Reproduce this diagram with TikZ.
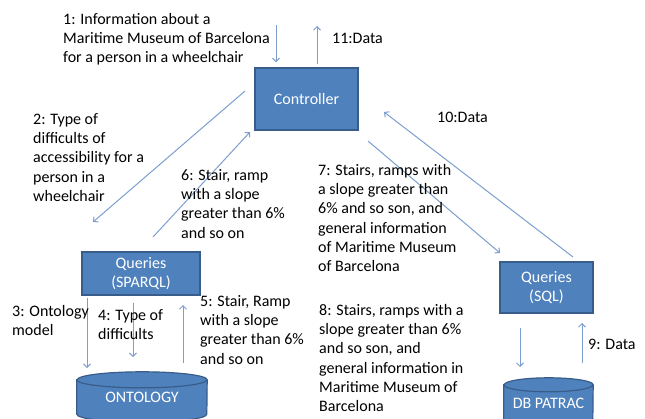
\documentclass[tikz,border=0pt]{standalone}
\usepackage{fontspec}
\setmainfont{Carlito}
\usetikzlibrary{arrows.meta,backgrounds}
\definecolor{boxblue}{RGB}{79,129,189}
\definecolor{boxline}{RGB}{56,93,138}
\definecolor{msgblue}{RGB}{124,158,206}
\begin{document}
\begin{tikzpicture}[x=1pt,y=-1pt,
		box/.style={rectangle,draw=boxline,fill=boxblue,line width=1.2pt,text=white,
				align=center,font=\fontsize{16}{19.3}\selectfont},
		db/.style={rectangle,text=white,font=\fontsize{16}{19.3}\selectfont},
		dbshape/.style={draw=boxline,fill=boxblue,line width=1.2pt},
		lbl/.style={anchor=north west,inner sep=0pt,align=left,font=\fontsize{16}{19.3}\selectfont},
		msg/.style={-{Straight Barb[length=3.5pt,width=7pt]},msgblue,line width=1pt}
	]
	\useasboundingbox (0,0) rectangle (645,418);

	\node[box,minimum width=103pt,minimum height=62pt] (ctrl) at (306.5,99) {Controller};
	\node[box,minimum width=118pt,minimum height=43pt] (sparql) at (141,273.5) {Queries\\(SPARQL)};
	\node[box,minimum width=93pt,minimum height=51pt] (sql) at (546.5,287.5) {Queries\\(SQL)};
	\node[db,minimum width=130pt,minimum height=50pt] (onto) at (142,397) {ONTOLOGY};
	\node[db,minimum width=89pt,minimum height=50pt] (patrac) at (548.5,403) {DB PATRAC};

	% cylinders behind the texts
	\begin{scope}[on background layer]
		\foreach \n/\rx/\ry in {onto/65/8,patrac/44.5/7} {
				\path[dbshape] ([yshift=-\ry pt]\n.north west) -- ([yshift=\ry pt]\n.south west)
				arc[start angle=180,end angle=360,x radius=\rx pt,y radius=\ry pt]
				-- ([yshift=-\ry pt]\n.north east)
				arc[start angle=0,end angle=180,x radius=\rx pt,y radius=\ry pt] -- cycle;
				\draw[dbshape,fill=none] ([yshift=-\ry pt]\n.north west)
				arc[start angle=180,end angle=360,x radius=\rx pt,y radius=\ry pt];
			}
	\end{scope}

	% free ends
	\coordinate (in1) at (276,25);
	\coordinate (out11) at (317,26);
	\coordinate (s2) at (245,91);  \coordinate (e2) at (93,222);
	\coordinate (s6) at (153,237); \coordinate (e6) at (250,132);
	\coordinate (s7) at (368,141); \coordinate (e7) at (500,253);
	\coordinate (s10) at (573,257); \coordinate (e10) at (384,112);
	\coordinate (s3) at (87,298);  \coordinate (e3) at (87,368);
	\coordinate (s4) at (133,303); \coordinate (e4) at (133,357);
	\coordinate (s5) at (183,363); \coordinate (e5) at (183,305);
	\coordinate (s8) at (520,328); \coordinate (e8) at (520,367);
	\coordinate (s9) at (582,363); \coordinate (e9) at (582,323);

	\draw[msg,shorten >=5pt] (in1) -- (in1 |- ctrl.north);
	\draw[msg,shorten <=3pt] (out11 |- ctrl.north) -- (out11);
	\draw[msg] (s2) -- (e2);
	\draw[msg] (s6) -- (e6);
	\draw[msg] (s7) -- (e7);
	\draw[msg] (s10) -- (e10);
	\draw[msg] (s3) -- (e3);
	\draw[msg] (s4) -- (e4);
	\draw[msg] (s5) -- (e5);
	\draw[msg] (s8) -- (e8);
	\draw[msg] (s9) -- (e9);

	\node[lbl] (l1) at (63,13) {1: Information about a\\Maritime Museum of Barcelona\\for a person in a wheelchair};
	\node[lbl] (l11) at (332,33) {11:Data};
	\node[lbl] (l2) at (33,113) {2: Type of\\difficults of\\accessibility for a\\person in a\\wheelchair};
	\node[lbl] (l6) at (181,169) {6: Stair, ramp\\with a slope\\greater than 6\%\\and so on};
	\node[lbl] (l10) at (437,112) {10:Data};
	\node[lbl] (l7) at (318,164) {7: Stairs, ramps with\\a slope greater than\\6\% and so son, and\\general information\\of Maritime Museum\\of Barcelona};
	\node[lbl] (l3) at (12,305) {3: Ontology\\model};
	\node[lbl] (l4) at (98,309) {4: Type of\\difficults};
	\node[lbl] (l5) at (200,295) {5: Stair, Ramp\\with a slope\\greater than 6\%\\and so on};
	\node[lbl] (l8) at (319,304) {8: Stairs, ramps with a\\slope greater than 6\%\\and so son, and\\general information in\\Maritime Museum of\\Barcelona};
	\node[lbl] (l9) at (588,339) {9: Data};
\end{tikzpicture}
\end{document}
